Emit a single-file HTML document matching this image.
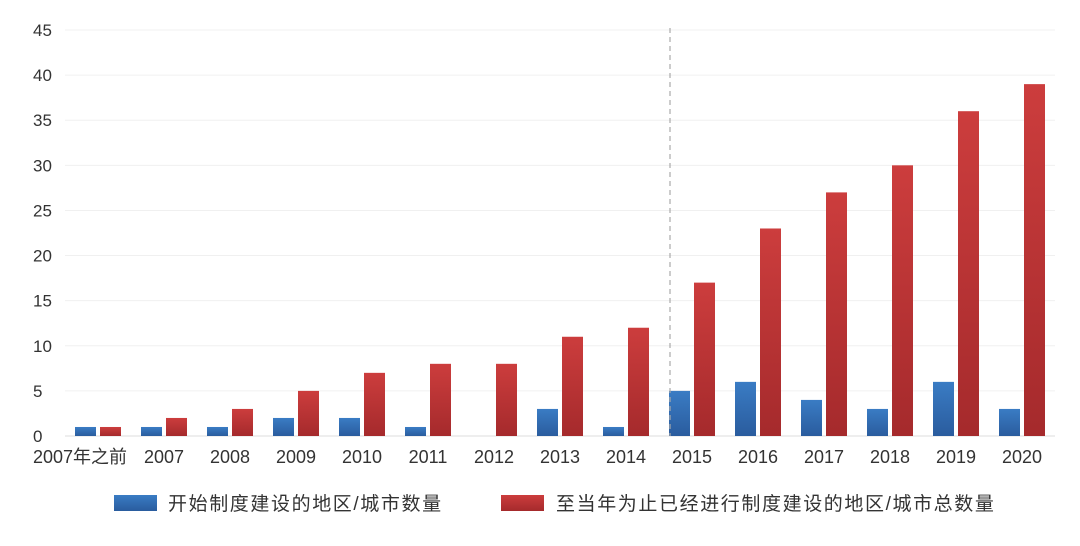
<!DOCTYPE html>
<html><head><meta charset="utf-8"><style>
body{margin:0;background:#fff;}
svg text{font-family:"Liberation Sans","Noto Sans CJK SC",sans-serif;fill:#333;}
</style></head><body>
<svg width="1080" height="541" viewBox="0 0 1080 541">
<defs>
<linearGradient id="gb" x1="0" y1="0" x2="0" y2="1"><stop offset="0" stop-color="#3a7cc4"/><stop offset="1" stop-color="#2a5c9e"/></linearGradient>
<linearGradient id="gr" x1="0" y1="0" x2="0" y2="1"><stop offset="0" stop-color="#cc3d3d"/><stop offset="1" stop-color="#a52a2c"/></linearGradient>
</defs>
<g id="grid"></g><g id="ylab"></g><g id="bars"></g><g id="xlab"></g>
<line x1="670" y1="28" x2="670" y2="436" stroke="#aaa" stroke-dasharray="5,4" stroke-width="1.2"/>
<g>
<rect x="114" y="495" width="43" height="16" fill="url(#gb)"/>
<text x="168" y="510" font-size="19" letter-spacing="1.6">开始制度建设的地区/城市数量</text>
<rect x="501" y="495" width="43" height="16" fill="url(#gr)"/>
<text x="556" y="510" font-size="19" letter-spacing="1.6">至当年为止已经进行制度建设的地区/城市总数量</text>
</g>
</svg>
<script>
const categories=["2007年之前","2007","2008","2009","2010","2011","2012","2013","2014","2015","2016","2017","2018","2019","2020"];
const newCount=[1,1,1,2,2,1,0,3,1,5,6,4,3,6,3];
const totalCount=[1,2,3,5,7,8,8,11,12,17,23,27,30,36,39];
const yTicks=[0,5,10,15,20,25,30,35,40,45];
const NS="http://www.w3.org/2000/svg";
const y0=436,ppu=(436-30)/45;
const yS=v=>y0-v*ppu;
const xS=i=>98+i*66;
function mk(t,a,p){const e=document.createElementNS(NS,t);for(const k in a)e.setAttribute(k,a[k]);document.getElementById(p).appendChild(e);return e;}
yTicks.forEach(v=>{
 const l=mk('line',{x1:65,x2:1055,y1:yS(v),y2:yS(v),stroke:v===0?'#ddd':'#f0f0f0'},'grid');
 
 
 const t=mk('text',{x:33,y:yS(v)+6,'font-size':17},'ylab');t.textContent=v;
 
 
});
categories.forEach((c,i)=>{
 const cx=xS(i);
 if(newCount[i]>0){const b=mk('rect',{x:cx-23,y:yS(newCount[i]),width:21,height:newCount[i]*ppu,fill:'url(#gb)'},'bars');
 
 }
 const r=mk('rect',{x:cx+2,y:yS(totalCount[i]),width:21,height:totalCount[i]*ppu,fill:'url(#gr)'},'bars');
 
 
 const t=mk('text',{x:i===0?cx-18:cx,y:463,'font-size':18,'text-anchor':'middle'},'xlab');t.textContent=c;
 
 
});
</script>
</body></html>
